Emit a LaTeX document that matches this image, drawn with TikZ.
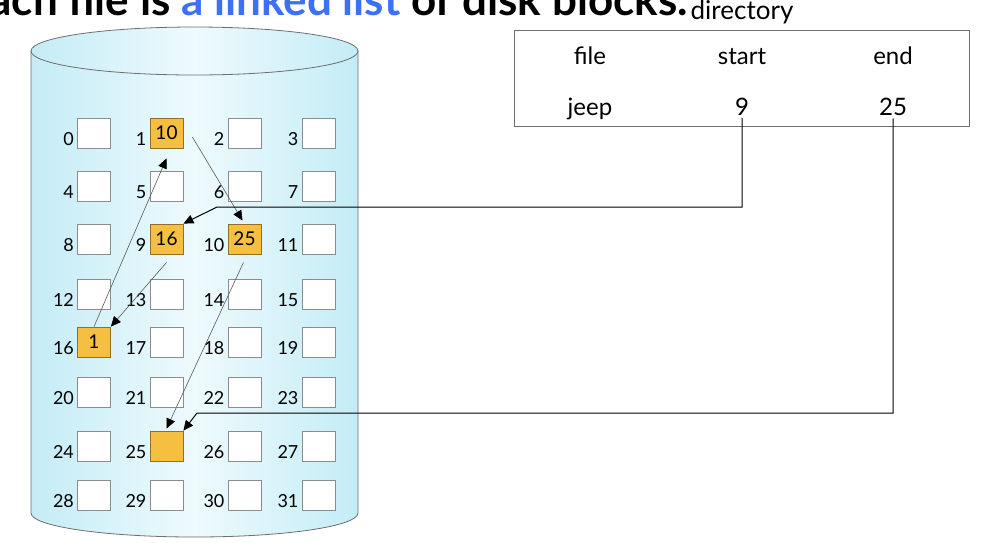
\documentclass[tikz,border=0pt]{standalone}
\usepackage{fontspec}
\setmainfont{Lato}
\usepackage{xcolor}
\usepackage{tikz}
\usetikzlibrary{arrows.meta,calc}
\definecolor{diskedge}{RGB}{196,236,246}
\definecolor{diskmid}{RGB}{238,250,253}
\definecolor{diskline}{RGB}{110,110,110}
\definecolor{blockline}{RGB}{140,140,140}
\definecolor{usedbg}{RGB}{245,192,66}
\definecolor{usedline}{RGB}{150,110,35}
\definecolor{linkline}{RGB}{90,90,90}
\definecolor{titleblue}{RGB}{62,112,246}
\newcommand{\numfont}{\fontsize{18}{20}\selectfont}
\newcommand{\infont}{\fontsize{19}{21}\selectfont}
\newcommand{\tablefont}{\fontsize{24}{26}\selectfont}
\newcommand{\dirfont}{\fontsize{26}{28}\selectfont}
\newcommand{\titlefont}{\fontsize{44}{48}\selectfont\bfseries}
\tikzset{
  block/.style={draw=blockline, fill=white, line width=0.8pt, inner sep=0pt,
    minimum width=33pt, minimum height=30pt, font=\infont},
  usedblock/.style={block, draw=usedline, fill=usedbg},
  blocknum/.style={font=\numfont, inner sep=0pt, anchor=base east},
  dircell/.style={font=\tablefont, inner sep=3pt, anchor=base},
  dirbox/.style={draw=diskline, line width=0.8pt, minimum width=455pt,
    minimum height=96pt},
  disk/.style={draw=diskline, line width=0.8pt, left color=diskedge,
    right color=diskedge, middle color=diskmid},
  blocklink/.style={draw=linkline, line width=0.6pt,
    -{Triangle[length=10pt,width=9pt,color=black,fill=black]}},
  dirlink/.style={draw=black, line width=1pt,
    -{Triangle[length=10pt,width=9pt]}}
}

\begin{document}
\begin{tikzpicture}[x=1pt, y=-1pt]
  \useasboundingbox (0,0) rectangle (998,542);
  \clip (0,0) rectangle (998,542);
  % heading, cut off by the top edge
  \node[font=\titlefont, inner sep=0pt, anchor=base east] (title) at (688,15)
    {Each file is {\color{titleblue}a linked list} of disk blocks.};
  % the disk
  \path[disk] (31,51) -- (31,513)
    arc[start angle=180, end angle=0, x radius=163.5, y radius=24]
    -- (358,51) -- cycle;
  \path[disk] (194.5,51) ellipse[x radius=163.5, y radius=24];
  % blocks 0..31
  \foreach \y [count=\r from 0] in {133,186,239,294,342,392,446,495}
    \foreach \x [count=\c from 0] in {94,166.5,244.5,318.5} {
      \pgfmathtruncatemacro{\n}{4*\r+\c}
      \node[block] (b\n) at (\x,\y) {};
      \node[blocknum] (n\n) at ([xshift=-3pt,yshift=3pt]b\n.south west) {\n};
    }
  \foreach \n/\v in {1/10,9/16,10/25,16/1,25/{}}
    \node[usedblock] (u\n) at (b\n) {\v};
  % directory
  \node[dirbox] (dir) at (741.5,78) {};
  \node[font=\dirfont, inner sep=0pt, anchor=base] (dirname) at (742,19)
    {directory};
  \node[dircell] (hfile) at (590,64) {file};
  \node[dircell] (hstart) at (742,64) {start};
  \node[dircell] (hend) at (893,64) {end};
  \node[dircell] (rfile) at (590,115) {jeep};
  \node[dircell] (rstart) at (742,115) {9};
  \node[dircell] (rend) at (893,115) {25};
  % chain 9 -> 16 -> 1 -> 10 -> 25
  \draw[blocklink] ($(u9.south)+(0,8)$) -- (u16.north east);
  \draw[blocklink] (u16.north) -- ($(u1.south)+(0,10)$);
  \draw[blocklink] ($(u1.east)+(9,4)$) -- ($(u10.north)+(-2,-3)$);
  \draw[blocklink] ($(u10.south)+(-1,8)$) -- ($(u25.north)+(0,-2)$);
  \coordinate (c9) at (217,207);
  \coordinate (c25) at (197,413);
  \draw[dirlink] (rstart.south) |- (c9) -- (u9.north east);
  \draw[dirlink] (rend.south) |- (c25) -- (u25.north east);
\end{tikzpicture}
\end{document}
